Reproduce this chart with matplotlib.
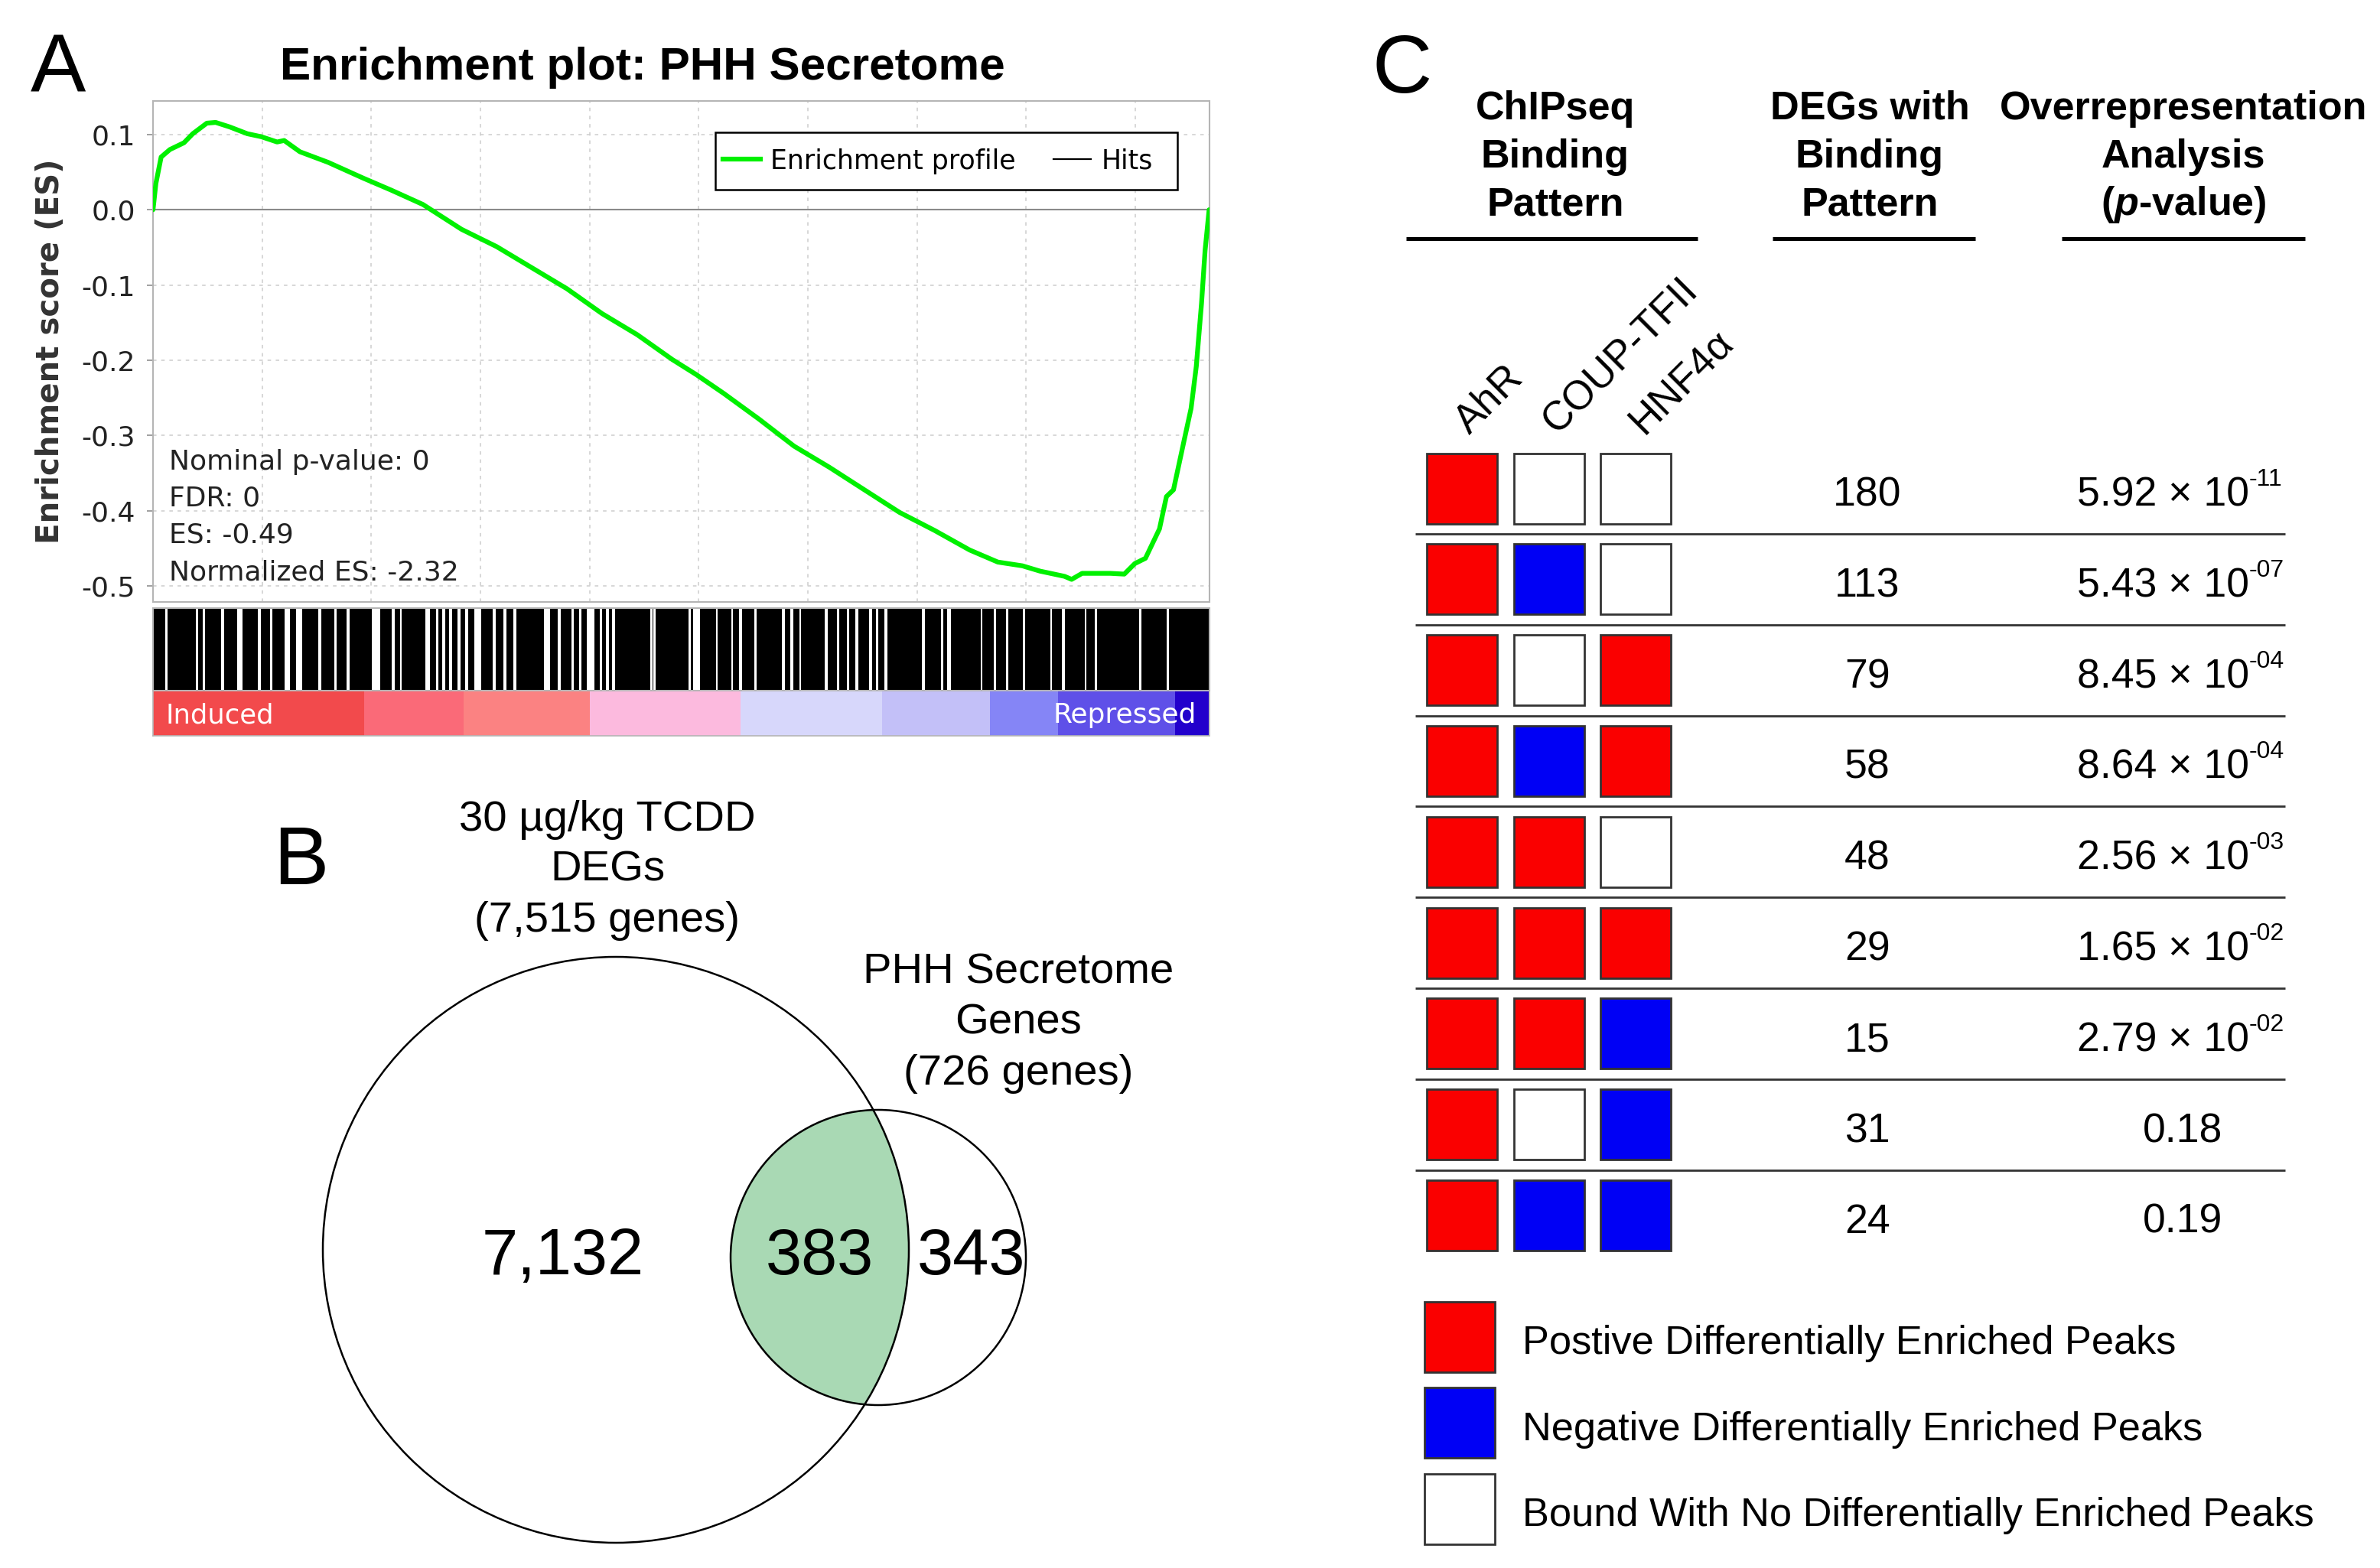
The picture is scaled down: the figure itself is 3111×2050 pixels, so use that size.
import matplotlib
matplotlib.use("Agg")
import matplotlib.pyplot as plt
from matplotlib.patches import Rectangle, Circle
from matplotlib.lines import Line2D
import numpy as np

plt.rcParams['font.family'] = ['Liberation Sans', 'DejaVu Sans']
plt.rcParams['mathtext.fontset'] = 'custom'
plt.rcParams['mathtext.it'] = 'Liberation Sans:italic:bold'
plt.rcParams['mathtext.rm'] = 'Liberation Sans:bold'

W, H = 3111, 2050

# ---------------- data: panel A (GSEA) ----------------
n_genes = 19350
es_rank = [0, 53, 149, 310, 568, 729, 986, 1147, 1405, 1727, 1984, 2274, 2403, 2692,
           3207, 3851, 4366, 4945, 5138, 5653, 6296, 6940, 7585, 8228, 8872, 9515,
           9954, 10457, 11101, 11745, 12390, 13033, 13677, 14320, 14963, 15478,
           15929, 16250, 16702, 16831, 17023, 17539, 17796, 17989, 18183, 18440,
           18568, 18697, 18890, 19019, 19115, 19211, 19276, 19350]
es_value = [0.0, 0.035, 0.070, 0.080, 0.089, 0.101, 0.115, 0.116, 0.110, 0.101,
            0.097, 0.090, 0.092, 0.077, 0.063, 0.042, 0.026, 0.007, -0.002, -0.026,
            -0.049, -0.077, -0.105, -0.138, -0.166, -0.199, -0.219, -0.244, -0.278,
            -0.314, -0.342, -0.372, -0.402, -0.426, -0.452, -0.468, -0.473, -0.480,
            -0.487, -0.491, -0.483, -0.483, -0.484, -0.470, -0.463, -0.424, -0.381,
            -0.372, -0.307, -0.264, -0.208, -0.124, -0.054, 0.0]
# rank positions (centre, width) where no hit falls in the hit bar
hit_gap_rank = [243, 806, 931, 1275, 1588, 1945, 2164, 2464, 2671, 3059, 3340, 3572,
                4091, 4404, 4542, 5030, 5205, 5324, 5449, 5606, 5750, 5950, 6250,
                6451, 6626, 7220, 7439, 7690, 7827, 8015, 8203, 8327, 8440, 9129,
                9191, 9828, 9953, 10329, 10611, 10767, 11036, 11549, 11706, 11862,
                12331, 12551, 12738, 12894, 13145, 13270, 13427, 14115, 14459, 14584,
                15179, 15428, 15647, 15961, 16461, 16680, 17087, 17274, 18087, 18589]
hit_gap_width = [38, 38, 31, 50, 94, 50, 50, 94, 113, 50, 50, 50, 156, 50, 38, 88, 50,
                 50, 50, 50, 50, 138, 50, 50, 50, 113, 50, 50, 50, 138, 38, 50, 50,
                 38, 38, 38, 125, 38, 38, 63, 50, 50, 63, 31, 50, 31, 38, 50, 63, 38,
                 50, 50, 50, 63, 38, 38, 50, 50, 31, 63, 31, 50, 38, 38]
rank_bar_edges = [0, 3869, 5691, 8004, 10765, 13358, 15335, 16582, 18727, 19350]
rank_bar_colors = ['#f24a4c', '#fa6a78', '#fb8282', '#fcbade', '#d7d7fb',
                   '#c3c0f8', '#8585f6', '#5f50e8', '#2200cc']
es_ticks = [0.1, 0.0, -0.1, -0.2, -0.3, -0.4, -0.5]
stats_lines = ["Nominal p-value: 0", "FDR: 0", "ES: -0.49", "Normalized ES: -2.32"]
legend_a = ["Enrichment profile", "Hits"]

# ---------------- data: panel B (Venn) ----------------
venn_region_labels = ["7,132", "383", "343"]
venn_set_labels = ["30 µg/kg TCDD\nDEGs\n(7,515 genes)",
                   "PHH Secretome\nGenes\n(726 genes)"]

# ---------------- data: panel C (table) ----------------
tf_names = ["AhR", "COUP-TFII", "HNF4α"]
# 1 = positive DEP, -1 = negative DEP, 0 = bound, no DEP
patterns = [[1, 0, 0], [1, -1, 0], [1, 0, 1], [1, -1, 1], [1, 1, 0],
            [1, 1, 1], [1, 1, -1], [1, 0, -1], [1, -1, -1]]
deg_counts = [180, 113, 79, 58, 48, 29, 15, 31, 24]
p_mantissa = ["5.92", "5.43", "8.45", "8.64", "2.56", "1.65", "2.79", "0.18", "0.19"]
p_exponent = ["-11", "-07", "-04", "-04", "-03", "-02", "-02", None, None]
state_colors = {1: '#fa0000', -1: '#0000f5', 0: '#ffffff'}
legend_states = [1, -1, 0]
legend_c = ["Postive Differentially Enriched Peaks",
            "Negative Differentially Enriched Peaks",
            "Bound With No Differentially Enriched Peaks"]

# ---------------- figure ----------------
fig = plt.figure(figsize=(W / 100, H / 100), dpi=100)


def rect(x0, y0, x1, y1):
    return [x0 / W, 1 - y1 / H, (x1 - x0) / W, (y1 - y0) / H]


AX_L, AX_R = 200, 1580.5
ax = fig.add_axes(rect(AX_L, 131.5, AX_R, 787))
hx = fig.add_axes(rect(AX_L, 795, AX_R, 903))
bx = fig.add_axes(rect(AX_L, 903, AX_R, 962))

DJ = 'DejaVu Sans'
GREEN = '#00f000'
# ES curve
ax.plot(es_rank, es_value, color=GREEN, lw=4.5, solid_joinstyle='round',
        solid_capstyle='round', zorder=4)
ax.axhline(0, color='#8a8a8a', lw=1.5, zorder=2)
ax.set_xlim(0, n_genes)
ax.set_ylim(-0.521, 0.145)
ax.set_xticks(np.arange(0, n_genes, 2000))
ax.set_yticks(es_ticks)
ax.set_yticklabels([f"{t:.1f}" for t in es_ticks])
ax.grid(True, color='#cdcdcd', linestyle=(0, (3, 4)), lw=1.1, zorder=1)
ax.tick_params(axis='x', length=0, labelbottom=False)
ax.tick_params(axis='y', length=5.8, width=1.2, color='#909090', pad=11,
               labelsize=26, labelcolor='#222222')
for lab in ax.get_yticklabels():
    lab.set_fontfamily(DJ)
for sp in ax.spines.values():
    sp.set_color('#b5b5b5')
    sp.set_linewidth(1.5)

# hits
gaps = sorted(zip(hit_gap_rank, hit_gap_width))
blocks = []
cur = 0
for c, w in gaps:
    s = c - w / 2
    if s > cur:
        blocks.append((cur, s - cur))
    cur = c + w / 2
blocks.append((cur, n_genes - cur))
hx.broken_barh(blocks, (0, 1), facecolors='black', linewidth=0)
hx.set_xlim(0, n_genes)
hx.set_ylim(0, 1)
hx.set_xticks([])
hx.set_yticks([])
for sp in hx.spines.values():
    sp.set_color('#b5b5b5')
    sp.set_linewidth(1.5)

# ranked list metric bar
segs = [(rank_bar_edges[i], rank_bar_edges[i + 1] - rank_bar_edges[i])
        for i in range(len(rank_bar_colors))]
bx.broken_barh(segs, (0, 1), facecolors=rank_bar_colors, linewidth=0)
bx.set_xlim(0, n_genes)
bx.set_ylim(0, 1)
bx.set_xticks([])
bx.set_yticks([])
for sp in bx.spines.values():
    sp.set_color('#b5b5b5')
    sp.set_linewidth(1.2)
bx.text(0.012, 0.45, "Induced", transform=bx.transAxes, color='white',
        fontsize=25.5, family=DJ, ha='left', va='center')
bx.text(0.988, 0.45, "Repressed", transform=bx.transAxes, color='white',
        fontsize=26, family=DJ, ha='right', va='center')

# overlay axes in pixel coordinates for annotations / panels B and C
ov = fig.add_axes([0, 0, 1, 1])
ov.set_xlim(0, W)
ov.set_ylim(H, 0)
ov.axis('off')
ov.patch.set_visible(False)

# legend of panel A (opaque framed box)
ov.add_patch(Rectangle((935, 173), 604, 75, fc='white', ec='black', lw=1.8,
                       zorder=4))
h1 = Line2D([], [], color=GREEN, lw=4.5)
h2 = Line2D([], [], color='black', lw=1.6)
leg = ov.legend([h1, h2], legend_a, ncol=2, loc='center left',
                bbox_to_anchor=(945, 210.5), bbox_transform=ov.transData,
                prop={'family': DJ, 'size': 25}, frameon=False,
                borderpad=0, handlelength=1.42, handletextpad=0.38,
                columnspacing=1.4, borderaxespad=0)
leg.set_zorder(5)

# panel A texts
ov.text(40, 121, "A", fontsize=78, ha='left', va='baseline')
ov.text(840, 104, "Enrichment plot: PHH Secretome", fontsize=43.4, weight='bold',
        ha='center', va='baseline')
ov.text(66, 459, "Enrichment score (ES)", rotation=90, fontsize=29, weight='bold',
        family=DJ, color='#333333', ha='center', va='center')
for i, s in enumerate(stats_lines):
    ov.text(221, 613.6 + 48.2 * i, s, fontsize=26, family=DJ, color='#222222',
            ha='left', va='baseline')

# ---------------- panel B ----------------
ov.text(357, 1156, "B", fontsize=78, ha='left', va='baseline')
big = Circle((805, 1634), 383, fill=False, ec='black', lw=1.8, zorder=3)
small = Circle((1148, 1644), 193, fill=False, ec='black', lw=1.8, zorder=3)
ov.add_patch(big)
ov.add_patch(small)
lens = Circle((1148, 1644), 193, fc='#a9d9b4', ec='none', zorder=2)
ov.add_patch(lens)
lens.set_clip_path(big)
for x, s in zip([736, 1071, 1270], venn_region_labels):
    ov.text(x, 1666, s, fontsize=61, ha='center', va='baseline', zorder=4)
for (cx, y0), lab in zip([(794, 1086), (1331, 1286)], venn_set_labels):
    for k, line in enumerate(lab.split("\n")):
        ov.text(cx, y0 + 66 * k, line, fontsize=40.5, ha='center', va='baseline')

# ---------------- panel C ----------------
ov.text(1794, 121, "C", fontsize=78, ha='left', va='baseline')
headers = [(2033, ["ChIPseq", "Binding", "Pattern"]),
           (2444, ["DEGs with", "Binding", "Pattern"]),
           (2854, ["Overrepresentation", "Analysis", r"($\mathit{p}$-value)"])]
for cx, lines in headers:
    for k, line in enumerate(lines):
        ov.text(cx, 156 + 62.5 * k, line, fontsize=37.5, weight='bold',
                ha='center', va='baseline')
for x0, x1 in [(1838, 2219), (2317, 2582), (2695, 3013)]:
    ov.plot([x0, x1], [312, 312], color='black', lw=3.6, solid_capstyle='butt')

col_x = [1911, 2025, 2138]
row0, row_step, sq = 638.5, 118.8, 92
for cx, name in zip(col_x, tf_names):
    ov.text(cx + 10, 569, name, fontsize=38, rotation=45, rotation_mode='anchor',
            ha='left', va='baseline')
for i, pat in enumerate(patterns):
    cy = row0 + row_step * i
    for cx, st in zip(col_x, pat):
        ov.add_patch(Rectangle((cx - sq / 2, cy - sq / 2), sq, sq,
                               fc=state_colors[st], ec='#333333', lw=2.0))
    ov.text(2441, cy + 23, str(deg_counts[i]), fontsize=38.5, ha='center',
            va='baseline')
    if p_exponent[i] is None:
        ov.text(2853, cy + 23, p_mantissa[i], fontsize=38.5, ha='center',
                va='baseline')
    else:
        t = ov.text(2715, cy + 23, f"{p_mantissa[i]} × 10", fontsize=38.5,
                    ha='left', va='baseline')
        ov.annotate(p_exponent[i], xy=(1, cy + 23 - 26.5), xycoords=(t, 'data'),
                    fontsize=23, ha='left', va='baseline')
    if i < len(patterns) - 1:
        ov.plot([1850, 2987], [cy + row_step / 2] * 2, color='#333333', lw=2.0,
                solid_capstyle='butt')

for k, (st, lab) in enumerate(zip(legend_states, legend_c)):
    cy = 1747.5 + 112.5 * k
    ov.add_patch(Rectangle((1908.5 - sq / 2, cy - sq / 2), sq, sq,
                           fc=state_colors[st], ec='#333333', lw=2.0))
    ov.text(1990, cy + 22.5, lab, fontsize=37.7, ha='left', va='baseline')

fig.savefig("out.png", dpi=100)
